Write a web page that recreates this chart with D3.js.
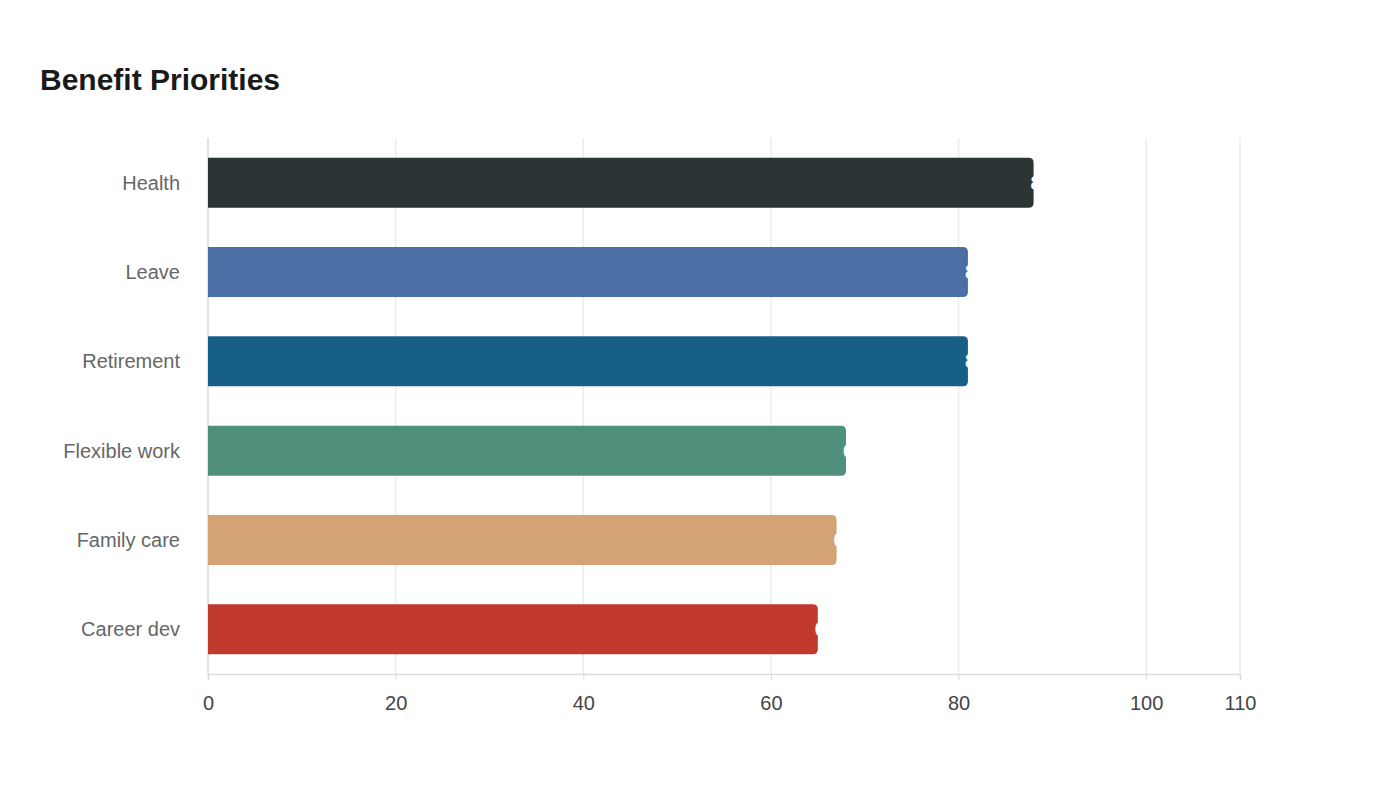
<!DOCTYPE html>
<html><head><meta charset="utf-8">
<script src="https://cdn.jsdelivr.net/npm/d3@7"></script>
<style>body{margin:0;background:#fff}svg{font-family:"Liberation Sans",Arial,sans-serif}</style>
</head><body><svg id="c" width="1400" height="800"></svg>
<script>
const categories = ["Health","Leave","Retirement","Flexible work","Family care","Career dev"];
const values = [88,81,81,68,67,65];
const colors = ["#2d3436","#4a6fa5","#166088","#4f8f7c","#d4a373","#c0392b"];
const tickValues = [0,20,40,60,80,100,110];

const svg = d3.select("#c");
const m = {l:208, r:1240, t:138, b:674};
const x = d3.scaleLinear().domain([0,110]).range([m.l, m.r]);
const y = d3.scaleBand().domain(categories).range([m.t, m.b]).paddingInner(0.44).paddingOuter(0.22);

svg.append("text").attr("x",40).attr("y",90).attr("font-size",30).attr("font-weight","bold").attr("fill","#1a1a1a").text("Benefit Priorities");

svg.append("g").selectAll("line").data(tickValues).join("line")
  .attr("x1",d=>x(d)).attr("x2",d=>x(d)).attr("y1",m.t).attr("y2",m.b)
  .attr("stroke","#ebebeb").attr("stroke-width",1.5);

const xa = svg.append("g").attr("transform",`translate(0,${m.b})`)
  .call(d3.axisBottom(x).tickValues(tickValues).tickSize(6).tickPadding(16).tickFormat(d3.format("d")));
xa.select(".domain").attr("stroke","#dcdcdc").attr("stroke-width",1.5);
xa.selectAll(".tick line").attr("stroke","#dcdcdc");
xa.selectAll("text").attr("font-size",20).attr("fill","#444").attr("font-family","Liberation Sans, Arial, sans-serif");

svg.append("line").attr("x1",m.l).attr("x2",m.l).attr("y1",m.t).attr("y2",m.b).attr("stroke","#dcdcdc").attr("stroke-width",1.5);

const rows = categories.map((c,i)=>({c, v:values[i], col:colors[i]}));
svg.append("g").selectAll("path").data(rows).join("path")
  .attr("fill",d=>d.col)
  .attr("d",d=>{const x0=x(0),x1=x(d.v),y0=y(d.c),h=y.bandwidth(),r=5;
    return `M${x0},${y0}H${x1-r}Q${x1},${y0} ${x1},${y0+r}V${y0+h-r}Q${x1},${y0+h} ${x1-r},${y0+h}H${x0}Z`;});

svg.append("g").selectAll("text").data(rows).join("text")
  .attr("x",d=>x(d.v)-3).attr("y",d=>y(d.c)+y.bandwidth()/2).attr("dy","0.35em")
  .attr("font-size",20).attr("font-weight","bold").attr("fill","#fff").text(d=>d.v);

svg.append("g").selectAll("text.cat").data(rows).join("text")
  .attr("x",m.l-28).attr("y",d=>y(d.c)+y.bandwidth()/2).attr("dy","0.35em")
  .attr("text-anchor","end").attr("font-size",20).attr("fill","#666").text(d=>d.c);
</script></body></html>
